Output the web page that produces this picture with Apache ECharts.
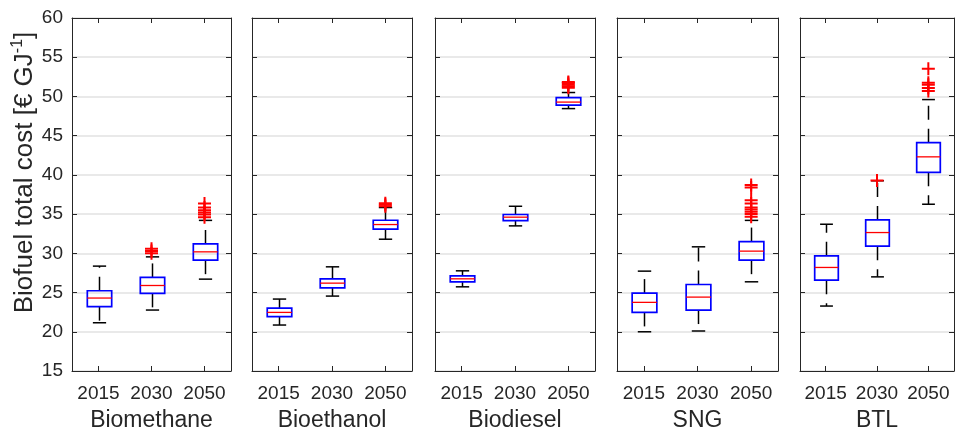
<!DOCTYPE html>
<html>
<head>
<meta charset="utf-8">
<script src="https://cdn.jsdelivr.net/npm/echarts@6/dist/echarts.min.js"></script>
<style>html,body{margin:0;padding:0;background:#fff}#chart{width:955px;height:432px}</style>
</head>
<body>
<div id="chart"></div>
<script>
// ---- data ----
const years = ['2015', '2030', '2050'];
const fuels = ['Biomethane', 'Bioethanol', 'Biodiesel', 'SNG', 'BTL'];
const yTicks = [15, 20, 25, 30, 35, 40, 45, 50, 55, 60];
// [lower whisker, Q1, median, Q3, upper whisker] per year
const biomethane = [[21.15, 23.2, 24.3, 25.23, 28.37], [22.77, 24.9, 25.9, 26.93, 29.55], [26.71, 29.13, 30.19, 31.2, 34.2]];
const bioethanol = [[20.86, 21.92, 22.47, 23.02, 24.17], [24.55, 25.6, 26.2, 26.75, 28.28], [31.8, 33.08, 33.67, 34.22, 35.84]];
const biodiesel = [[25.73, 26.37, 26.75, 27.13, 27.77], [33.5, 34.18, 34.61, 34.95, 36.0], [48.45, 48.9, 49.28, 49.84, 50.5]];
const sng = [[20.0, 22.47, 23.75, 24.93, 27.73], [20.1, 22.77, 24.42, 26.03, 30.83], [26.37, 29.13, 30.28, 31.5, 34.2]];
const btl = [[23.28, 26.58, 28.2, 29.68, 33.71], [27.0, 30.91, 32.65, 34.26, 39.25], [36.26, 40.33, 42.3, 44.11, 49.6]];
// outliers per year
const biomethaneOut = [[], [30.0, 30.3, 30.6], [34.6, 34.95, 35.2, 35.5, 35.84, 36.35]];
const bioethanolOut = [[], [], [36.0, 36.2, 36.4]];
const biodieselOut = [[], [], [51.1, 51.3, 51.5, 51.7, 51.85]];
const sngOut = [[], [], [34.65, 35.0, 35.3, 35.6, 35.84, 36.35, 36.77, 38.4, 38.7]];
const btlOut = [[], [39.3], [50.68, 51.07, 51.5, 51.75, 53.53]];

const stats = [biomethane, bioethanol, biodiesel, sng, btl];
const outs = [biomethaneOut, bioethanolOut, biodieselOut, sngOut, btlOut];

// ---- layout ----
const gridLefts = [72, 252, 435, 617, 800];
const gridWidths = [159, 160, 160, 161, 154];
const TXT = '#262626';
const FONT = '"Liberation Sans", Arial, Helvetica, sans-serif';

const grids = [], xAxes = [], yAxes = [], series = [];
fuels.forEach((f, i) => {
  grids.push({ left: gridLefts[i], top: 18, width: gridWidths[i], height: 353, containLabel: false, outerBoundsMode: 'none' });
  const axisLine = { show: true, lineStyle: { color: TXT, width: 1 } };
  const tick = { show: true, inside: true, length: 5, alignWithLabel: true, lineStyle: { color: TXT } };
  xAxes.push({
    gridIndex: i, type: 'category', data: years, position: 'bottom',
    axisLine, axisTick: tick,
    axisLabel: { interval: 0, fontSize: 19, color: TXT, margin: 13, fontFamily: FONT },
    splitLine: { show: false },
    name: f, nameLocation: 'middle', nameGap: 38,
    nameTextStyle: { fontSize: 23, color: TXT, fontFamily: FONT }
  });
  xAxes.push({
    gridIndex: i, type: 'category', data: years, position: 'top',
    axisLine, axisTick: tick, axisLabel: { show: false }, splitLine: { show: false }
  });
  const yl = {
    gridIndex: i, type: 'value', min: yTicks[0], max: yTicks[yTicks.length - 1], interval: 5, position: 'left',
    axisLine, axisTick: { show: true, inside: true, length: 5, lineStyle: { color: TXT } },
    axisLabel: { show: i === 0, fontSize: 19, color: TXT, margin: 9, fontFamily: FONT },
    splitLine: { show: true, lineStyle: { color: '#e2e2e2', width: 1.5 } }
  };
  if (i === 0) {
    yl.name = '{a|Biofuel total cost [€ GJ}{s|-1}{a|]}';
    yl.nameLocation = 'middle';
    yl.nameGap = 34;
    yl.nameRotate = 90;
    yl.nameTextStyle = {
      color: TXT, fontFamily: FONT, padding: [0, 0, 0, 44],
      rich: {
        a: { fontSize: 26, color: TXT, fontFamily: FONT, lineHeight: 28, verticalAlign: 'bottom' },
        s: { fontSize: 16, color: TXT, fontFamily: FONT, lineHeight: 28, verticalAlign: 'top' }
      }
    };
  }
  yAxes.push(yl);
  yAxes.push({
    gridIndex: i, type: 'value', min: yTicks[0], max: yTicks[yTicks.length - 1], interval: 5, position: 'right',
    axisLine, axisTick: { show: true, inside: true, length: 5, lineStyle: { color: TXT } },
    axisLabel: { show: false }, splitLine: { show: false }
  });

  series.push({
    type: 'custom', xAxisIndex: 2 * i, yAxisIndex: 2 * i, z: 3,
    data: stats[i].map((s, j) => [j].concat(s)),
    encode: { x: 0, y: [1, 2, 3, 4, 5] },
    renderItem: function (params, api) {
      const x = api.value(0);
      const lo = api.coord([x, api.value(1)]);
      const q1 = api.coord([x, api.value(2)]);
      const md = api.coord([x, api.value(3)]);
      const q3 = api.coord([x, api.value(4)]);
      const hi = api.coord([x, api.value(5)]);
      const band = api.size([1, 0])[0];
      const bw = band * 0.46, cw = band * 0.25;
      const cx = Math.round(lo[0]) + 0.5;
      const wStyle = { stroke: '#000', lineWidth: 1.5, lineDash: [14, 9] };
      const cStyle = { stroke: '#000', lineWidth: 1.5 };
      return {
        type: 'group',
        children: [
          { type: 'line', shape: { x1: cx, y1: q3[1], x2: cx, y2: hi[1] }, style: wStyle },
          { type: 'line', shape: { x1: cx, y1: q1[1], x2: cx, y2: lo[1] }, style: wStyle },
          { type: 'line', shape: { x1: cx - cw / 2, y1: hi[1], x2: cx + cw / 2, y2: hi[1] }, style: cStyle },
          { type: 'line', shape: { x1: cx - cw / 2, y1: lo[1], x2: cx + cw / 2, y2: lo[1] }, style: cStyle },
          { type: 'rect', shape: { x: cx - bw / 2, y: q3[1], width: bw, height: q1[1] - q3[1] }, style: { fill: 'none', stroke: '#0000ff', lineWidth: 1.7 } },
          { type: 'line', shape: { x1: cx - bw / 2, y1: md[1], x2: cx + bw / 2, y2: md[1] }, style: { stroke: '#ff0000', lineWidth: 1.3 } }
        ]
      };
    }
  });

  const pts = [];
  outs[i].forEach((arr, j) => arr.forEach(v => pts.push([j, v])));
  series.push({
    type: 'scatter', xAxisIndex: 2 * i, yAxisIndex: 2 * i, z: 4,
    symbol: 'path://M5.5,0H7.5V5.5H13V7.5H7.5V13H5.5V7.5H0V5.5H5.5Z',
    symbolSize: 13,
    itemStyle: { color: '#ff0000', opacity: 1 },
    data: pts
  });
});

const chart = echarts.init(document.getElementById('chart'), null, { renderer: 'canvas' });
chart.setOption({
  animation: false,
  backgroundColor: '#fff',
  textStyle: { fontFamily: FONT },
  grid: grids, xAxis: xAxes, yAxis: yAxes, series: series
});
</script>
</body>
</html>
